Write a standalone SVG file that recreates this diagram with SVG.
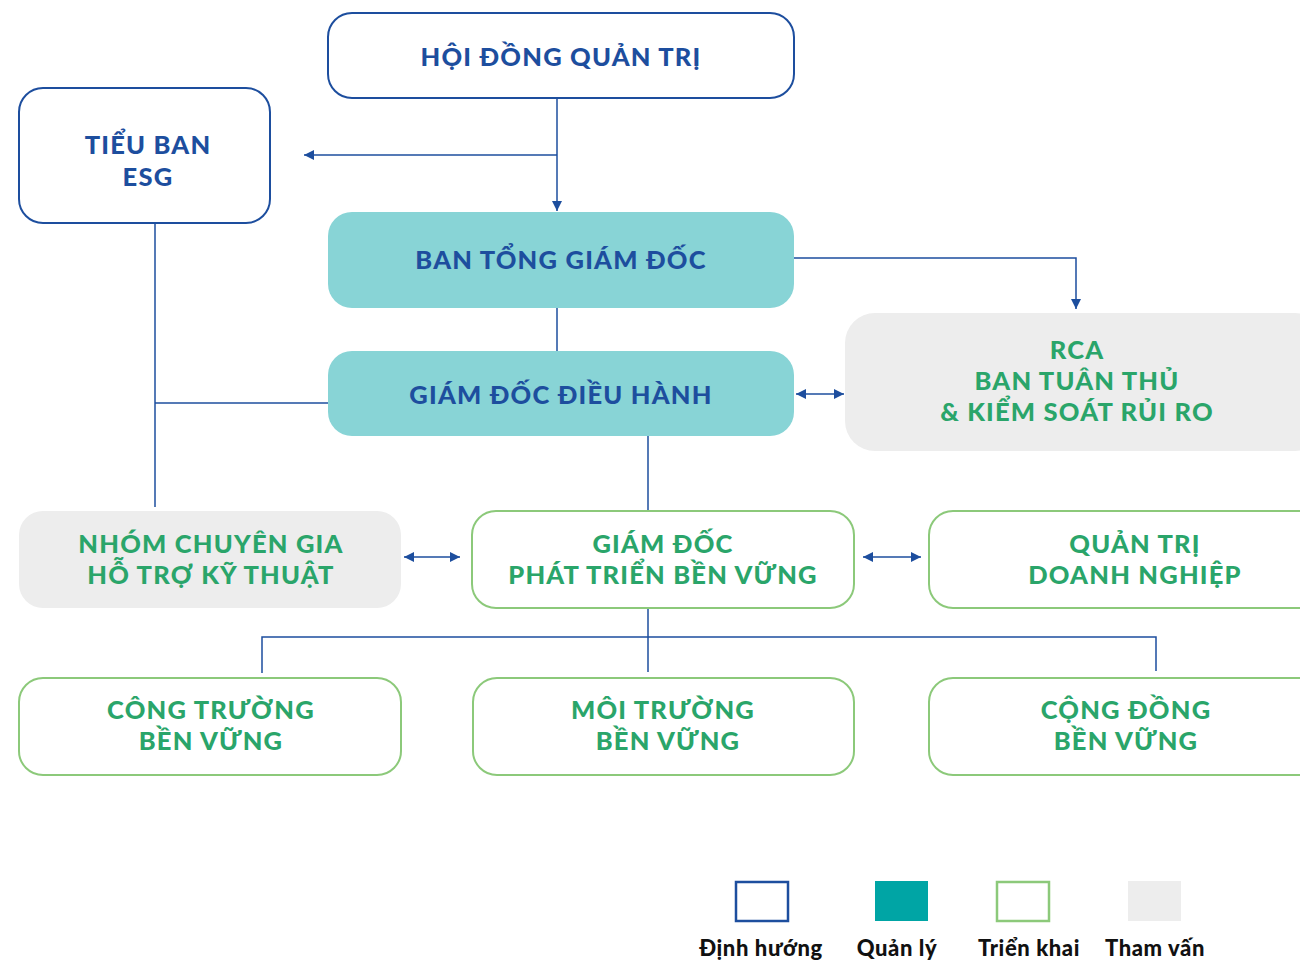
<svg xmlns="http://www.w3.org/2000/svg" width="1300" height="960" viewBox="0 0 1300 960">
<defs>
<marker id="ah" viewBox="0 0 10 10" refX="10" refY="5" markerWidth="10" markerHeight="10" markerUnits="userSpaceOnUse" orient="auto-start-reverse">
<path d="M0,0 L10,5 L0,10 Z" fill="#1d4e9e"/>
</marker>
</defs>
<style>
.t{font-family:Lato,"Noto Sans",sans-serif;font-weight:900;font-size:25.5px;text-anchor:middle;letter-spacing:1.2px}
.blue{fill:#1d4e9e}
.green{fill:#2aa56a}
.dir{fill:#fff;stroke:#1d4e9e;stroke-width:2}
.mgr{fill:#88d4d6}
.imp{fill:#fff;stroke:#8cc97a;stroke-width:2}
.con{fill:#ededed}
.c line,.c polyline{stroke:#1d4e9e;stroke-width:1.5;fill:none}
.lg{font-family:Lato,"Noto Sans",sans-serif;font-weight:900;font-size:22px;text-anchor:middle;fill:#111;letter-spacing:0.6px}
</style>
<rect width="1300" height="960" fill="#fff"/>
<g class="c" id="connectors">
<line x1="557" y1="98" x2="557" y2="211" marker-end="url(#ah)"/>
<line x1="557" y1="155" x2="304" y2="155" marker-end="url(#ah)"/>
<line x1="557" y1="308" x2="557" y2="351"/>
<polyline points="793,258 1076,258 1076,309" marker-end="url(#ah)"/>
<line x1="796" y1="394" x2="844" y2="394" marker-start="url(#ah)" marker-end="url(#ah)"/>
<line x1="155" y1="224" x2="155" y2="507"/>
<line x1="155" y1="403" x2="328" y2="403"/>
<line x1="648" y1="435" x2="648" y2="511"/>
<line x1="404" y1="557" x2="460" y2="557" marker-start="url(#ah)" marker-end="url(#ah)"/>
<line x1="863" y1="557" x2="921" y2="557" marker-start="url(#ah)" marker-end="url(#ah)"/>
<line x1="648" y1="608" x2="648" y2="672"/>
<polyline points="262,673 262,637 1156,637 1156,671"/>
</g>
<g id="hdqt"><rect class="dir" x="328" y="13" width="466" height="85" rx="24"/><text class="t blue" x="561" y="66">HỘI ĐỒNG QUẢN TRỊ</text></g>
<g id="esg"><rect class="dir" x="19" y="88" width="251" height="135" rx="24"/><text class="t blue" x="148" y="154">TIỂU BAN</text><text class="t blue" x="148" y="186">ESG</text></g>
<g id="btgd"><rect class="mgr" x="328" y="212" width="466" height="96" rx="24"/><text class="t blue" x="561" y="269">BAN TỔNG GIÁM ĐỐC</text></g>
<g id="gddh"><rect class="mgr" x="328" y="351" width="466" height="85" rx="24"/><text class="t blue" x="561" y="404">GIÁM ĐỐC ĐIỀU HÀNH</text></g>
<g id="rca"><rect class="con" x="845" y="313" width="480" height="138" rx="30"/><text class="t green" x="1077" y="359">RCA</text><text class="t green" x="1077" y="390">BAN TUÂN THỦ</text><text class="t green" x="1077" y="421">&amp; KIỂM SOÁT RỦI RO</text></g>
<g id="nhom"><rect class="con" x="19" y="511" width="382" height="97" rx="24"/><text class="t green" x="211" y="553">NHÓM CHUYÊN GIA</text><text class="t green" x="211" y="584">HỖ TRỢ KỸ THUẬT</text></g>
<g id="gdptbv"><rect class="imp" x="472" y="511" width="382" height="97" rx="24"/><text class="t green" x="663" y="553">GIÁM ĐỐC</text><text class="t green" x="663" y="584">PHÁT TRIỂN BỀN VỮNG</text></g>
<g id="qtdn"><rect class="imp" x="929" y="511" width="400" height="97" rx="24"/><text class="t green" x="1135" y="553">QUẢN TRỊ</text><text class="t green" x="1135" y="584">DOANH NGHIỆP</text></g>
<g id="ct"><rect class="imp" x="19" y="678" width="382" height="97" rx="24"/><text class="t green" x="211" y="719">CÔNG TRƯỜNG</text><text class="t green" x="211" y="750">BỀN VỮNG</text></g>
<g id="mt"><rect class="imp" x="473" y="678" width="381" height="97" rx="24"/><text class="t green" x="663" y="719">MÔI TRƯỜNG</text><text class="t green" x="668" y="750">BỀN VỮNG</text></g>
<g id="cd"><rect class="imp" x="929" y="678" width="400" height="97" rx="24"/><text class="t green" x="1126" y="719">CỘNG ĐỒNG</text><text class="t green" x="1126" y="750">BỀN VỮNG</text></g>
<g id="legend">
<rect x="736" y="882" width="52" height="39" fill="#fff" stroke="#1d4e9e" stroke-width="2.5"/>
<rect x="875" y="881" width="53" height="40" fill="#00a5a5"/>
<rect x="997" y="882" width="52" height="39" fill="#fff" stroke="#8cc97a" stroke-width="2.5"/>
<rect x="1128" y="881" width="53" height="40" fill="#ededed"/>
<text class="lg" x="761" y="956">Định hướng</text>
<text class="lg" x="897" y="956">Quản lý</text>
<text class="lg" x="1029" y="956">Triển khai</text>
<text class="lg" x="1155" y="956">Tham vấn</text>
</g>
</svg>
